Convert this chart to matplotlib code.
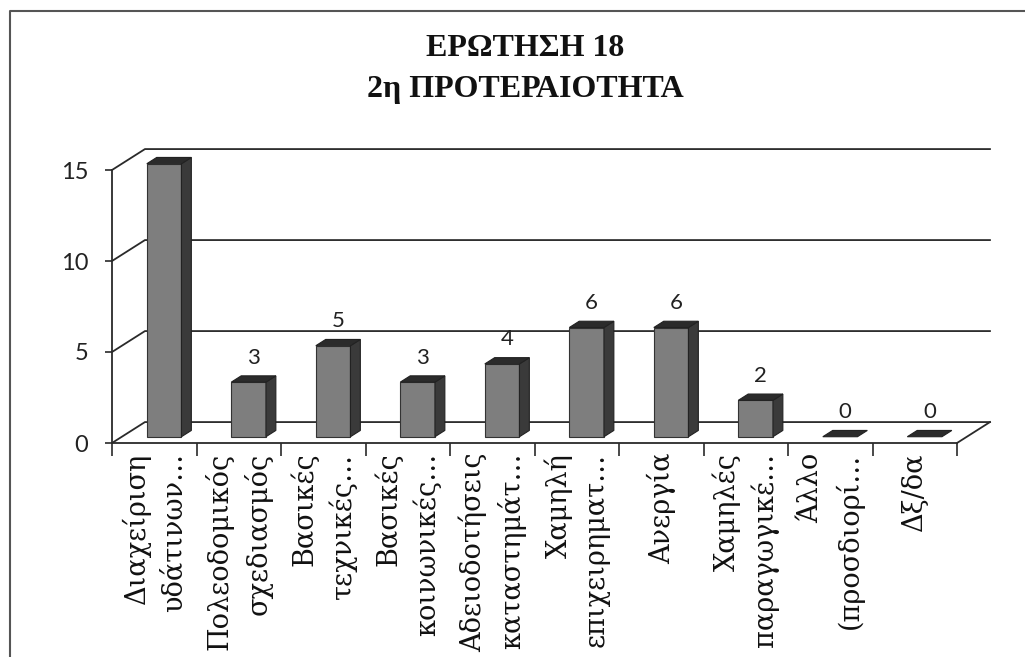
import matplotlib.pyplot as plt
from matplotlib.patches import Polygon
from matplotlib.lines import Line2D

# data
categories = ['Διαχείριση\nυδάτινων…', 'Πολεοδομικός\nσχεδιασμός', 'Βασικές\nτεχνικές…',
              'Βασικές\nκοινωνικές…', 'Αδειοδοτήσεις\nκαταστημάτ…', 'Χαμηλή\nεπιχειρηματ…',
              'Ανεργία', 'Χαμηλές\nπαραγωγικέ…', 'Άλλο\n(προσδιορί…', 'Δξ/δα']
values = [15, 3, 5, 3, 4, 6, 6, 2, 0, 0]
yticks = [0, 5, 10, 15]
title = 'ΕΡΩΤΗΣΗ 18\n2η ΠΡΟΤΕΡΑΙΟΤΗΤΑ'

serif = ['Liberation Serif', 'DejaVu Serif']
label_font = ['DejaVu Serif']
sans = ['Lato', 'Liberation Sans', 'DejaVu Sans']
plt.rcParams['font.family'] = serif

W, H = 1025, 657
fig = plt.figure(figsize=(W / 100, H / 100), dpi=100)
ax = fig.add_axes([112 / W, 214 / H, 845 / W, 273 / H])
n = len(values)
ax.set_xlim(0, n)
ax.set_ylim(0, 15)

# fake 3d: depth offset of the back wall in data units
dx, dy = 0.39, 1.15
bw = 0.41           # bar width
fd = 0.3            # depth position of bar front face (fraction)
bd = 0.3            # bar depth (fraction)
line_c = '#2a2a2a'

# back wall gridlines + left wall diagonals
for v in yticks:
    ax.add_line(Line2D([0, dx, n + dx], [v, v + dy, v + dy], color=line_c, lw=1.3, clip_on=False, zorder=1))
# floor right edge
ax.add_line(Line2D([n, n + dx], [0, dy], color=line_c, lw=1.3, clip_on=False, zorder=1))

# bars
for i, v in enumerate(values):
    x0 = i + 0.5 - bw / 2 + fd * dx
    b = fd * dy
    ddx, ddy = bd * dx, bd * dy
    front = [(x0, b), (x0 + bw, b), (x0 + bw, b + v), (x0, b + v)]
    side = [(x0 + bw, b), (x0 + bw + ddx, b + ddy), (x0 + bw + ddx, b + v + ddy), (x0 + bw, b + v)]
    top = [(x0, b + v), (x0 + bw, b + v), (x0 + bw + ddx, b + v + ddy), (x0 + ddx, b + v + ddy)]
    if v > 0:
        ax.add_patch(Polygon(front, closed=True, fc='#7e7e7e', ec='#333333', lw=0.8, clip_on=False, zorder=3))
        ax.add_patch(Polygon(side, closed=True, fc='#3a3a3a', ec='#222222', lw=0.8, clip_on=False, zorder=3))
    ax.add_patch(Polygon(top, closed=True, fc='#2b2b2b', ec='#222222', lw=0.8, clip_on=False, zorder=3))
    ax.annotate(str(v), (i + 0.5 + fd * dx + ddx / 2, b + v + ddy), xytext=(0, 6), textcoords='offset points',
                ha='center', va='bottom', fontsize=16, family=sans, color='#222222', zorder=4)

for s in ['top', 'right']:
    ax.spines[s].set_visible(False)
for s in ['left', 'bottom']:
    ax.spines[s].set_color(line_c)
    ax.spines[s].set_linewidth(1.3)
ax.set_facecolor('none')

ax.set_yticks(yticks)
ax.set_yticklabels([str(t) for t in yticks], fontsize=17, family=sans, color='#222222')
ax.tick_params(axis='y', length=5, width=1.2, color=line_c, pad=12)

ax.set_xticks(range(n + 1))
ax.set_xticklabels([])
ax.set_xticks([i + 0.5 for i in range(n)], minor=True)
ax.set_xticklabels(categories, minor=True, rotation=90, va='top', ha='center', multialignment='right',
                   fontsize=19.5, family=label_font, color='#111111', linespacing=1.45)
ax.tick_params(axis='x', which='major', length=9, width=1.2, color=line_c)
ax.tick_params(axis='x', which='minor', length=0, pad=7)

fig.text(525 / W, 1 - 69 / H, title, ha='center', va='center', fontsize=23, fontweight='bold',
         family=serif, color='#111111', linespacing=1.5)

# outer frame of the scanned chart (left and top edges visible)
fig.add_artist(Line2D([10 / W, 10 / W, 1], [0, 1 - 11 / H, 1 - 11 / H],
                      transform=fig.transFigure, color='#555555', lw=1.5))

fig.savefig('out.png', dpi=100)
